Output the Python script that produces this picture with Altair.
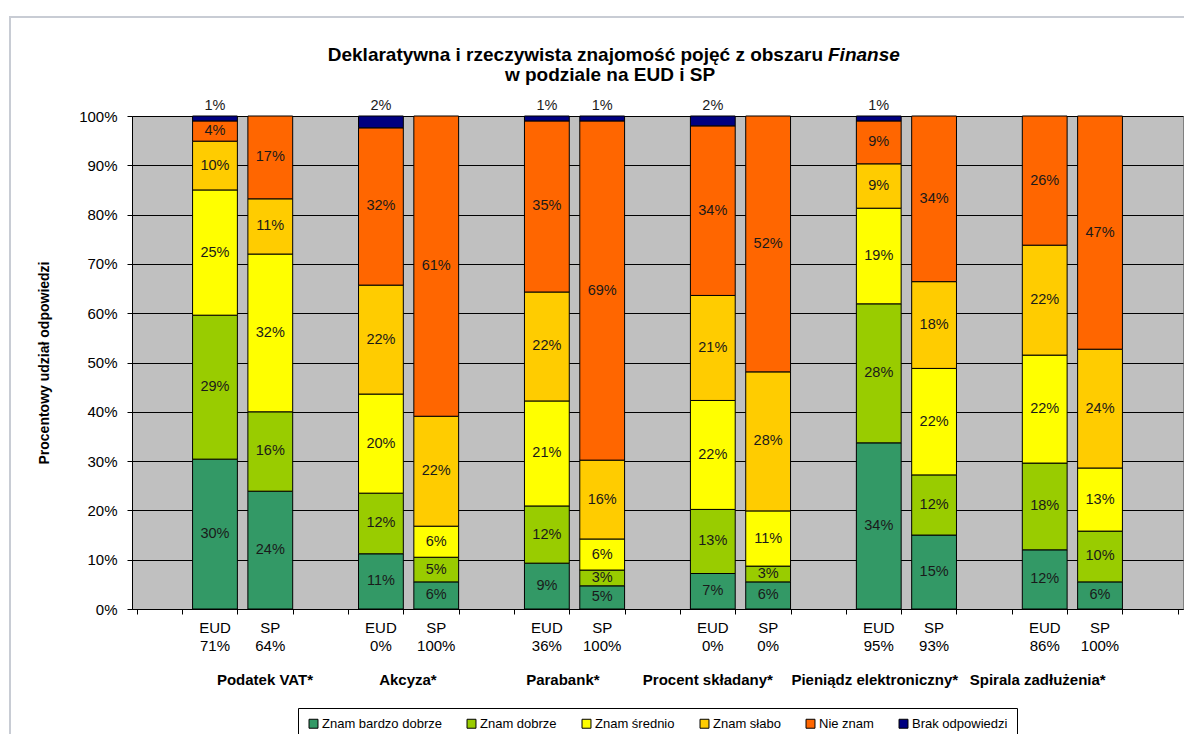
import altair as alt
import pandas as pd

# ---------------- data ----------------
groups = ["Podatek VAT*", "Akcyza*", "Parabank*", "Procent składany*",
          "Pieniądz elektroniczny*", "Spirala zadłużenia*"]
respondents = ["EUD", "SP"]
eud_share = [71, 0, 36, 0, 95, 86]
sp_share = [64, 100, 100, 0, 93, 100]

series = ["Znam bardzo dobrze", "Znam dobrze", "Znam średnio", "Znam słabo",
          "Nie znam", "Brak odpowiedzi"]
colors = ["#339966", "#99CC00", "#FFFF00", "#FFCC00", "#FF6600", "#000080"]

# order of bars: VAT-EUD, VAT-SP, Akcyza-EUD, Akcyza-SP, ...
znam_bardzo_dobrze = [30.4, 23.9, 11.2, 5.5, 9.3, 4.7, 7.2, 5.5, 33.7, 15.0, 12.0, 5.5]
znam_dobrze = [29.2, 16.1, 12.3, 5.0, 11.6, 3.2, 13.0, 3.2, 28.2, 12.2, 17.6, 10.3]
znam_srednio = [25.4, 32.0, 20.1, 6.3, 21.3, 6.3, 22.1, 11.2, 19.4, 21.6, 21.9, 12.8]
znam_slabo = [9.9, 11.2, 22.1, 22.3, 22.1, 16.0, 21.3, 28.2, 9.0, 17.6, 22.3, 24.1]
nie_znam = [4.1, 16.8, 31.9, 60.9, 34.7, 68.8, 34.4, 51.9, 8.7, 33.6, 26.2, 47.3]
brak = [1.0, 0, 2.4, 0, 1.0, 1.0, 2.0, 0, 1.0, 0, 0, 0]

values = [znam_bardzo_dobrze, znam_dobrze, znam_srednio, znam_slabo, nie_znam, brak]

# ---------------- tables ----------------
slots = []
for i, g in enumerate(groups):
    slots += [f"gap{i}", f"{g}|EUD", f"{g}|SP"]
slots.append("gap6")

rows = []
sub_rows = []
for b in range(12):
    g = groups[b // 2]
    r = respondents[b % 2]
    slot = f"{g}|{r}"
    share = (eud_share if r == "EUD" else sp_share)[b // 2]
    sub_rows.append({"slot": slot, "txt": f"{r}\n{share}%"})
    cum = 0.0
    for k, s in enumerate(series):
        v = values[k][b]
        if v > 0:
            rows.append({"slot": slot, "series": s, "y0": cum, "y1": cum + v,
                         "mid": cum + v / 2, "lab": f"{int(v + 0.5)}%"})
        cum += v
df = pd.DataFrame(rows)
sub_df = pd.DataFrame(sub_rows)
grp_df = pd.DataFrame({"slot": [f"{g}|EUD" for g in groups], "name": groups})

W, H = 1051, 493
xscale = alt.Scale(domain=slots, paddingInner=0.19, paddingOuter=0.095)
yscale = alt.Scale(domain=[0, 100])

base = alt.Chart(df)

frame = alt.Chart(pd.DataFrame({"k": [0]})).mark_rect(
    filled=False, stroke="#c8ccd4", strokeWidth=2
).encode(x=alt.value(-122), x2=alt.value(W + 30), y=alt.value(-99), y2=alt.value(H + 160))

bars = base.mark_bar(stroke="black", strokeWidth=1).encode(
    x=alt.X("slot:N", scale=xscale, sort=slots,
            axis=alt.Axis(labels=False, title=None, tickBand="extent", tickSize=5,
                          tickColor="black", domainColor="black", grid=False)),
    y=alt.Y("y0:Q", scale=yscale,
            axis=alt.Axis(values=list(range(0, 101, 10)), labelExpr="datum.value + '%'",
                          grid=True, gridColor="black", gridOpacity=1, gridWidth=1,
                          tickColor="black", tickSize=5, domainColor="black",
                          labelFontSize=15, labelColor="black", labelPadding=10,
                          title="Procentowy udział odpowiedzi", titleFontSize=14,
                          titleFontWeight="bold", titleColor="black", titlePadding=27)),
    y2="y1:Q",
    color=alt.Color("series:N", scale=alt.Scale(domain=series, range=colors),
                    legend=alt.Legend(orient="none", legendX=166, legendY=592,
                                      direction="horizontal", title=None,
                                      strokeColor="black", fillColor="white",
                                      padding=9, symbolType="square", symbolSize=80,
                                      symbolStrokeColor="black", symbolStrokeWidth=1,
                                      labelFontSize=13, labelColor="black",
                                      columnPadding=23, labelOffset=2)),
)

seg_text = base.transform_filter(alt.datum.series != "Brak odpowiedzi").mark_text(
    fontSize=14.5, color="#1a1a1a", baseline="middle"
).encode(x=alt.X("slot:N", scale=xscale, sort=slots), y=alt.Y("mid:Q", scale=yscale),
         text="lab:N")

top_text = base.transform_filter(alt.datum.series == "Brak odpowiedzi").mark_text(
    fontSize=14.5, color="#1a1a1a", baseline="bottom", dy=-3
).encode(x=alt.X("slot:N", scale=xscale, sort=slots), y=alt.Y("y1:Q", scale=yscale),
         text="lab:N")

sub_text = alt.Chart(sub_df).mark_text(
    fontSize=15, color="black", baseline="top", lineBreak="\n", lineHeight=18
).encode(x=alt.X("slot:N", scale=xscale, sort=slots), y=alt.value(H + 12), text="txt:N")

grp_offsets = [50, 27, 16, -5, -4, -7]
grp_layers = []
for g, off in zip(groups, grp_offsets):
    grp_layers.append(
        alt.Chart(grp_df).transform_filter(alt.datum.name == g).mark_text(
            fontSize=15, fontWeight="bold", color="black", baseline="middle", dx=off
        ).encode(x=alt.X("slot:N", scale=xscale, sort=slots), y=alt.value(H + 71),
                 text="name:N")
    )

t_df = pd.DataFrame({"a": ["Deklaratywna i rzeczywista znajomość pojęć z obszaru"],
                     "b": ["Finanse"], "c": ["w podziale na EUD i SP"]})
title_a = alt.Chart(t_df).mark_text(fontSize=19, fontWeight="bold", align="right",
                                    baseline="middle", color="black").encode(
    text="a:N", x=alt.value(691), y=alt.value(-61))
title_b = alt.Chart(t_df).mark_text(fontSize=19, fontWeight="bold", fontStyle="italic",
                                    align="left", baseline="middle", color="black").encode(
    text="b:N", x=alt.value(696), y=alt.value(-61))
title_c = alt.Chart(t_df).mark_text(fontSize=19, fontWeight="bold", align="center",
                                    baseline="middle", color="black").encode(
    text="c:N", x=alt.value(478), y=alt.value(-41))

chart = alt.layer(frame, bars, seg_text, top_text, sub_text, *grp_layers,
                  title_a, title_b, title_c).properties(
    width=W, height=H,
    autosize=alt.AutoSizeParams(type="none"),
    padding={"left": 124, "top": 108, "right": 1, "bottom": 125},
).configure(font="Liberation Sans", background="white").configure_view(
    fill="#C0C0C0", stroke="#808080", strokeWidth=1
)

chart.save("out.html", embed_options={"renderer": "svg", "actions": False})
